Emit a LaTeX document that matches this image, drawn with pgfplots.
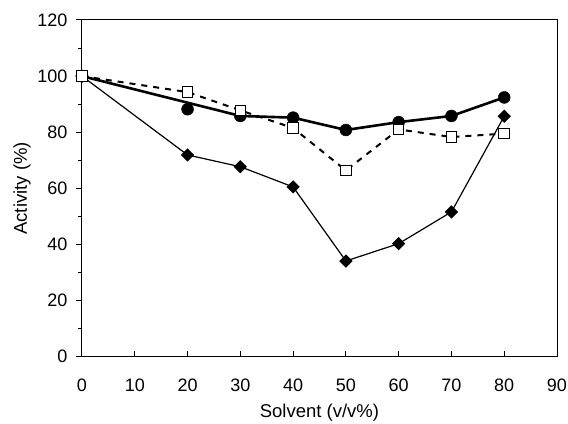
\documentclass[border=0pt]{standalone}
\usepackage{pgfplots}
\pgfplotsset{compat=1.18}
\usepackage{fontspec}
\setmainfont{Liberation Sans}
\begin{document}
\begin{tikzpicture}
\useasboundingbox (-82bp,-67.3bp) rectangle (486bp,356.7bp);
\begin{axis}[
  at={(0,0)}, anchor=south west,
  scale only axis,
  width=475bp, height=336.7bp,
  xmin=0, xmax=90, ymin=0, ymax=120,
  xtick={0,10,...,90}, ytick={0,20,...,120},
  minor ytick={10,30,...,110},
  axis line style={line width=1bp},
  every tick/.style={black, line width=1bp},
  xtick pos=bottom, ytick pos=left,
  xtick align=inside, ytick align=outside,
  major tick length=6bp, minor tick length=4bp,
  tick label style={font=\fontsize{18bp}{21bp}\selectfont},
  xticklabel style={yshift=-19bp},
  yticklabel style={xshift=-5bp},
  /pgf/number format/assume math mode=true,
  label style={font=\fontsize{18.5bp}{22bp}\selectfont},
  xlabel={Solvent (v/v\%)},
  ylabel={Activity (\%)},
  xlabel style={at={(axis description cs:0.5,0)}, anchor=center, yshift=-56bp},
  ylabel style={at={(axis description cs:0,0.5)}, anchor=center, yshift=60bp},
  clip=false,
]
% circles: thick line (point at 20 not on the line)
\addplot[black, line width=2.6bp, no marks] coordinates {
  (0,100) (30,85.8) (40,85.2) (50,80.8) (60,83.6) (70,85.8) (80,92.4)};
\addplot[black, only marks, mark=*, mark size=6bp] coordinates {
  (0,100) (20,88.2) (30,85.8) (40,85.2) (50,80.8) (60,83.6) (70,85.8) (80,92.4)};
% diamonds
\addplot[black, line width=1.2bp, mark=square*, mark size=4.1bp,
  mark options={rotate=45, solid, fill=black}] coordinates {
  (0,100) (20,71.9) (30,67.7) (40,60.5) (50,34.1) (60,40.3) (70,51.6) (80,85.7)};
% squares
\addplot[black, line width=2bp, dash pattern=on 6bp off 6bp, mark=square*, mark size=5.3bp,
  mark options={solid, fill=white, line width=1bp}] coordinates {
  (0,100) (20,94.3) (30,87.8) (40,81.5) (50,66.4) (60,81.0) (70,78.3) (80,79.5)};
\end{axis}
\end{tikzpicture}
\end{document}
